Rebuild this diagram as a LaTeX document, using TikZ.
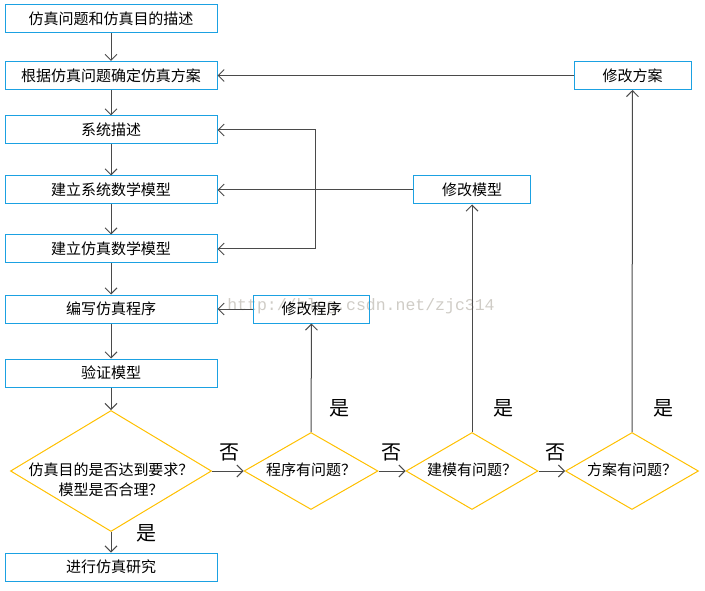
\documentclass[tikz,border=0pt]{standalone}
\usepackage{fontspec}
\setmainfont{Liberation Sans}
\newfontfamily\cjk{Noto Sans CJK SC}
\newfontfamily\wmfont{Liberation Mono}
\usetikzlibrary{arrows.meta,shapes.geometric}
\definecolor{boxblue}{HTML}{1BA1E2}
\definecolor{dyel}{HTML}{FFC000}
\definecolor{lgray}{HTML}{4A4A4A}
\definecolor{wm}{HTML}{CFCCC6}
\begin{document}
\begin{tikzpicture}[x=1pt,y=-1pt,
 box/.style={draw=boxblue, line width=1pt, minimum width=212pt, minimum height=28pt, inner sep=0pt, font=\cjk\fontsize{15}{18}\selectfont},
 sbox/.style={box, minimum width=116pt},
 dia/.style={draw=dyel, line width=1pt, shape=diamond, inner sep=0pt},
 lbl/.style={font=\cjk\fontsize{15}{20}\selectfont, align=center},
 yn/.style={font=\cjk\fontsize{20}{20}\selectfont},
 conn/.style={draw=lgray, line width=1pt, -{Straight Barb[length=6pt,width=12pt]}},
]
\useasboundingbox (0,0) rectangle (705,591);
\node[font=\wmfont\fontsize{16.5}{18}\selectfont, text=wm] (wmk) at (361,306) {http://blog.csdn.net/zjc314};
\node[box] (b1) at (111,19) {仿真问题和仿真目的描述};
\node[box] (b2) at (111,75.5) {根据仿真问题确定仿真方案};
\node[box] (b3) at (111,130) {系统描述};
\node[box] (b4) at (111,190) {建立系统数学模型};
\node[box] (b5) at (111,249) {建立仿真数学模型};
\node[box] (b6) at (111,309) {编写仿真程序};
\node[box] (b7) at (111,373) {验证模型};
\node[box] (b8) at (111,567) {进行仿真研究};
\node[dia, minimum width=201pt, minimum height=121pt] (d1) at (111,471) {};
\node[lbl] (t1) at (111,480) {仿真目的是否达到要求？\\模型是否合理？};
\node[dia, minimum width=134pt, minimum height=77pt] (d2) at (311,471) {};
\node[lbl] (t2) at (311,470) {程序有问题？};
\node[dia, minimum width=132pt, minimum height=77pt] (d3) at (472,471) {};
\node[lbl] (t3) at (472,470) {建模有问题？};
\node[dia, minimum width=133pt, minimum height=77pt] (d4) at (632,471) {};
\node[lbl] (t4) at (632,470) {方案有问题？};
\node[sbox] (m1) at (311.5,309) {修改程序};
\node[sbox, minimum width=117pt] (m2) at (472,190) {修改模型};
\node[sbox, minimum width=117pt] (m3) at (632.5,75.5) {修改方案};
\foreach \a/\b in {b1/b2,b2/b3,b3/b4,b4/b5,b5/b6,b6/b7}{\draw[conn] (\a.south) -- (\b.north);}
\draw[conn] (b7.south) -- (d1.north);
\draw[conn] (d1.south) -- (b8.north);
\draw[conn] (d1.east) -- (d2.west);
\draw[conn] (d2.east) -- (d3.west);
\draw[conn] (d3.east) -- (d4.west);
\draw[conn] (d2.north) -- (m1.south);
\draw[conn] (d3.north) -- (m2.south);
\draw[conn] (d4.north) -- (m3.south);
\draw[conn] (m1.west) -- (b6.east);
\draw[conn] (m3.west) -- (b2.east);
\draw[conn] (m2.west) -- (b4.east);
\coordinate (j) at (315,190);
\draw[conn] (j) |- (b3.east);
\draw[conn] (j) |- (b5.east);
\node[yn] (n1) at (229,452) {否};
\node[yn] (n2) at (391,452) {否};
\node[yn] (n3) at (555,452) {否};
\node[yn] (y1) at (339,408) {是};
\node[yn] (y2) at (503,408) {是};
\node[yn] (y3) at (663,408) {是};
\node[yn] (y4) at (146,533) {是};
\end{tikzpicture}
\end{document}
